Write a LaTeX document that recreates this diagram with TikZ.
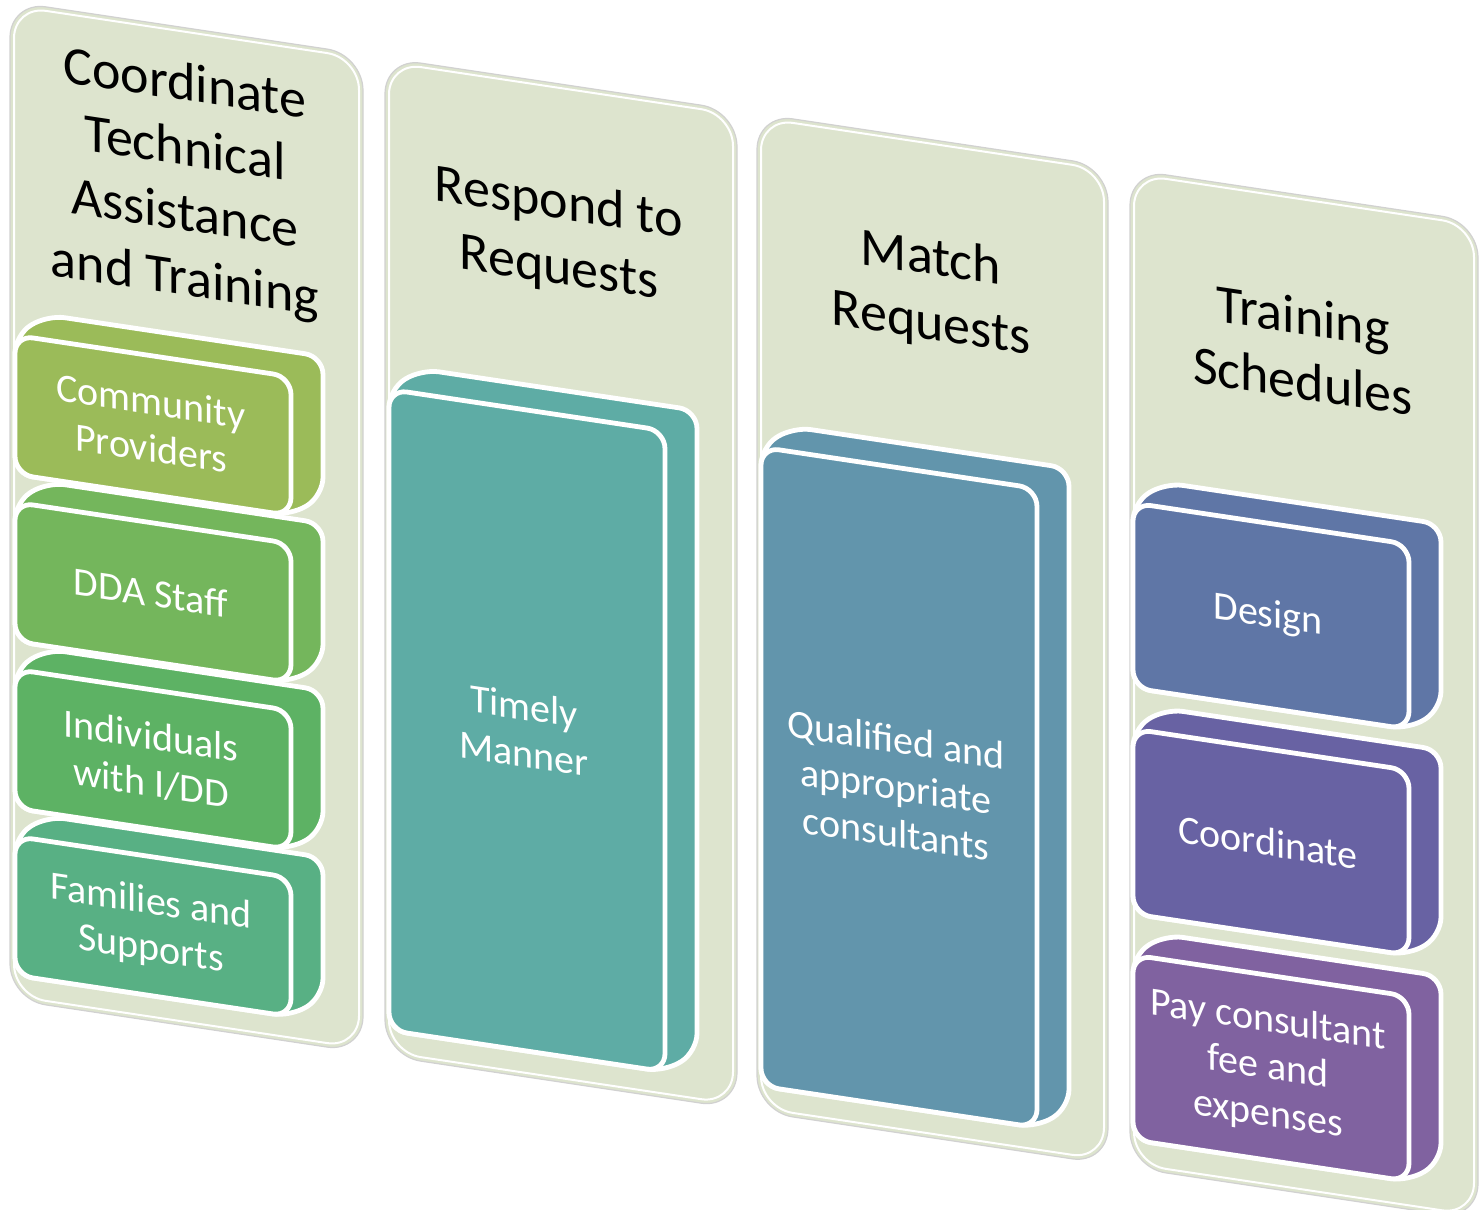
\documentclass[tikz,border=0pt]{standalone}
\usepackage{fontspec}
\setmainfont{Carlito}
\definecolor{sage}{RGB}{221,228,206}
\definecolor{cA}{RGB}{155,187,89}
\definecolor{cB}{RGB}{116,182,92}
\definecolor{cC}{RGB}{93,178,100}
\definecolor{cD}{RGB}{88,176,132}
\definecolor{cE}{RGB}{94,172,165}
\definecolor{cF}{RGB}{98,149,172}
\definecolor{cG}{RGB}{95,118,166}
\definecolor{cH}{RGB}{104,98,163}
\definecolor{cI}{RGB}{128,98,160}
\tikzset{
  panelbg/.style={fill=sage, draw=black!18, line width=0.6pt, rounded corners=18pt},
  panelhi/.style={draw=white, line width=1pt, rounded corners=16pt},
  cubeline/.style={draw=white, line width=2.4pt, rounded corners=9pt, line join=round},
  title/.style={transform shape, align=center, text=black, font=\fontsize{27}{32.5}\selectfont},
  boxtext/.style={transform shape, align=center, text=white, font=\fontsize{20}{23.5}\selectfont},
}
% a block seen in depth: left edge, top and bottom of its front face, colour
\newcommand\depthblock[4]{%
  \pgfmathsetmacro\bR{#1+276}%
  \pgfmathsetmacro\bM{(#2+#3)/2}%
  \filldraw[cubeline, fill=#4] (#1,\bM) -- (#1,#2) -- ({#1+32},{#2-25}) -- ({\bR+32},{#2-25})
      -- ({\bR+32},{#3-25}) -- (\bR,#3) -- (#1,#3) -- cycle;
  \filldraw[cubeline, fill=#4] (#1,#2) rectangle (\bR,#3);
}
% background column: left and right edge
\newcommand\column[2]{%
  \draw[panelbg] (#1,0) rectangle (#2,998);
  \draw[panelhi] ({#1+4},4) rectangle ({#2-4},994);
}
\begin{document}
\begin{tikzpicture}[x=0.5pt,y=-0.5pt]
\useasboundingbox (0,0) rectangle (1479,1210);
\clip (0,0) rectangle (1479,1210);
\begin{scope}[yslant=-0.15]
  % columns
  \column{10}{363}
  \column{385}{737}
  \column{757}{1108}
  \column{1130}{1478}

  % column 1: four audiences
  \depthblock{15}{834}{973}{cD}
  \depthblock{15}{667}{806}{cC}
  \depthblock{15}{500}{639}{cB}
  \depthblock{15}{333}{472}{cA}
  % column 2
  \depthblock{389}{331}{972}{cE}
  % column 3
  \depthblock{761}{333}{972}{cF}
  % column 4
  \depthblock{1133}{785}{970}{cI}
  \depthblock{1133}{559}{744}{cH}
  \depthblock{1133}{333}{518}{cG}

  % headings
  \node[title] (t1) at (185,156) {Coordinate\\Technical\\Assistance\\and Training};
  \node[title] (t2) at (559,153) {Respond to\\Requests};
  \node[title] (t3) at (931,153) {Match\\Requests};
  \node[title] (t4) at (1303,153) {Training\\Schedules};

  % block labels
  \node[boxtext] (b1) at (151,402) {Community\\Providers};
  \node[boxtext] (b2) at (151,570) {DDA Staff};
  \node[boxtext] (b3) at (151,737) {Individuals\\with I/DD};
  \node[boxtext] (b4) at (151,904) {Families and\\Supports};
  \node[boxtext] (b5) at (524,651) {Timely\\Manner};
  \node[boxtext] (b6) at (896,652) {Qualified and\\appropriate\\consultants};
  \node[boxtext] (b7) at (1268,426) {Design};
  \node[boxtext] (b8) at (1268,652) {Coordinate};
  \node[boxtext] (b9) at (1268,878) {Pay consultant\\fee and\\expenses};
\end{scope}
\end{tikzpicture}
\end{document}
